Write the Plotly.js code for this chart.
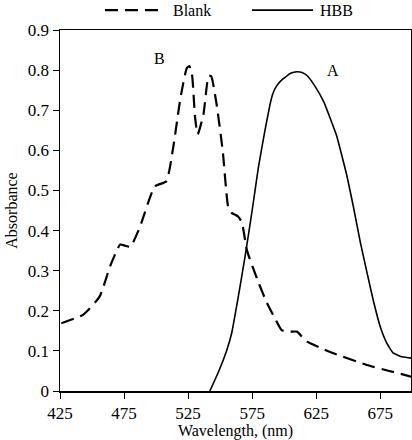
<!DOCTYPE html>
<html>
<head>
<meta charset="utf-8">
<script src="https://cdn.plot.ly/plotly-3.0.1.min.js"></script>
<style>
  html, body { margin: 0; padding: 0; background: #fff; }
  #graph { width: 412px; height: 440px; }
</style>
</head>
<body>
<div id="graph"></div>
<script>
// curve B : blank
let wlBlank  = [426, 443, 456, 464, 472, 476, 480, 487.5, 499, 508, 513.5, 519, 524, 526, 528, 530.5, 532.5, 537, 541, 543, 547, 552, 556.5, 559, 564, 567, 571, 580, 586.5, 593, 598, 604, 610, 614, 618, 628, 638.5, 664.5, 682, 699];
let absBlank = [0.169, 0.19, 0.236, 0.31, 0.365, 0.362, 0.36, 0.41, 0.51, 0.523, 0.61, 0.73, 0.805, 0.81, 0.79, 0.68, 0.64, 0.69, 0.785, 0.785, 0.72, 0.60, 0.455, 0.444, 0.435, 0.42, 0.35, 0.27, 0.22, 0.18, 0.152, 0.148, 0.148, 0.135, 0.123, 0.108, 0.094, 0.065, 0.05, 0.036];

// curve A : HBB
let wlHbb  = [542, 549, 555, 559, 565, 569.5, 575, 580, 585, 589, 591, 594, 599, 605, 610, 614, 618, 624, 631, 641, 649, 654, 659.5, 665, 670, 675, 680, 685, 691, 699];
let absHbb = [0, 0.05, 0.10, 0.144, 0.25, 0.336, 0.45, 0.56, 0.65, 0.715, 0.74, 0.76, 0.778, 0.792, 0.796, 0.794, 0.786, 0.76, 0.72, 0.636, 0.536, 0.46, 0.37, 0.29, 0.22, 0.16, 0.12, 0.095, 0.086, 0.082];

let xTicks = [425, 475, 525, 575, 625, 675];
let yTicks = [0, 0.1, 0.2, 0.3, 0.4, 0.5, 0.6, 0.7, 0.8, 0.9];

let font = "'Liberation Serif', 'Times New Roman', serif";

var traceB = {
  x: wlBlank,
  y: absBlank,
  mode: 'lines',
  name: 'Blank',
  line: {color: '#000', width: 2.2, dash: '13px,7px', shape: 'spline', smoothing: 0.5},
  type: 'scatter'
};

var traceA = {
  x: wlHbb,
  y: absHbb,
  mode: 'lines',
  name: 'HBB',
  line: {color: '#000', width: 1.6, shape: 'spline', smoothing: 0.3},
  type: 'scatter'
};

var layout = {
  width: 412,
  height: 440,
  margin: {l: 60, r: 1, t: 30, b: 49},
  paper_bgcolor: '#fff',
  plot_bgcolor: '#fff',
  showlegend: false,
  font: {family: font, size: 17, color: '#000'},
  xaxis: {
    range: [425, 699],
    tickvals: xTicks,
    ticktext: xTicks.map(String),
    ticks: 'outside',
    ticklen: 6,
    tickcolor: '#000',
    tickfont: {family: font, size: 17},
    showgrid: false,
    zeroline: false,
    showline: true,
    linecolor: '#000',
    linewidth: 1.5,
    mirror: true,
    title: {text: 'Wavelength, (nm)', font: {family: font, size: 16}, standoff: 2}
  },
  yaxis: {
    range: [0, 0.9],
    tickvals: yTicks,
    ticktext: yTicks.map(String),
    ticks: 'outside',
    ticklen: 6,
    tickcolor: '#000',
    tickfont: {family: font, size: 17},
    showgrid: false,
    zeroline: false,
    showline: true,
    linecolor: '#000',
    linewidth: 1.5,
    mirror: true,
    title: {text: 'Absorbance', font: {family: font, size: 16}, standoff: 6}
  },
  shapes: [
    // legend samples
    {type: 'line', xref: 'paper', yref: 'paper', x0: 0.128, x1: 0.285, y0: 1.055, y1: 1.055,
     line: {color: '#000', width: 2.2, dash: '13px,7px'}},
    {type: 'line', xref: 'paper', yref: 'paper', x0: 0.547, x1: 0.721, y0: 1.055, y1: 1.055,
     line: {color: '#000', width: 1.6}}
  ],
  annotations: [
    {xref: 'paper', yref: 'paper', x: 0.316, y: 1.055, text: 'Blank', showarrow: false, xanchor: 'left', yanchor: 'middle', font: {family: font, size: 16}},
    {xref: 'paper', yref: 'paper', x: 0.735, y: 1.055, text: 'HBB', showarrow: false, xanchor: 'left', yanchor: 'middle', font: {family: font, size: 16}},
    {x: 503, y: 0.83, text: 'B', showarrow: false, font: {family: font, size: 16}},
    {x: 638, y: 0.80, text: 'A', showarrow: false, font: {family: font, size: 16}}
  ]
};

Plotly.newPlot('graph', [traceB, traceA], layout, {displayModeBar: false, staticPlot: true});
</script>
</body>
</html>
